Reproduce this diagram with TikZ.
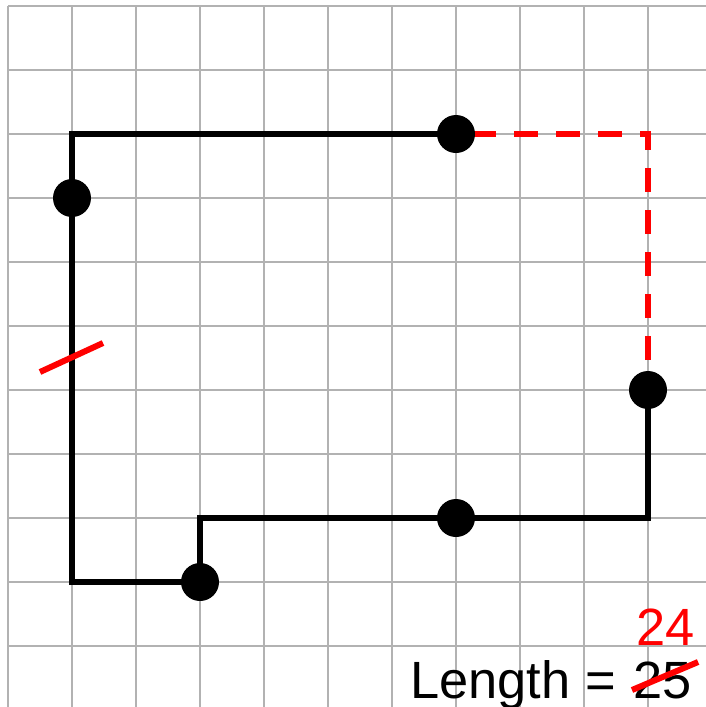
\documentclass[tikz,border=0pt]{standalone}
\usepackage{fontspec}
\setmainfont{Liberation Sans}
\usetikzlibrary{calc}
\tikzset{
  gridline/.style={draw=black!30, line width=1pt},
  pathline/.style={draw=black, line width=3pt, line join=miter},
  redline/.style={draw=red, line width=3pt},
  reddash/.style={draw=red, line width=2.75pt, line join=miter, dash pattern=on 12pt off 9pt, dash phase=13pt},
  dot/.style={circle, fill=black, inner sep=0pt, minimum size=19pt},
  lbl/.style={inner sep=0pt, anchor=base west, font=\fontsize{26.2}{30}\selectfont}
}
\begin{document}
\begin{tikzpicture}[x=0.5pt,y=-0.5pt]
\useasboundingbox (0,0) rectangle (706,707);
% grid
\foreach \i in {0,...,10} {
  \draw[gridline] (8+64*\i,6) -- (8+64*\i,707);
  \draw[gridline] (8,6+64*\i) -- (706,6+64*\i);
}
% coordinates
\coordinate (p1) at (456,134);
\coordinate (c1) at (72,134);
\coordinate (p2) at (72,198);
\coordinate (c2) at (72,582);
\coordinate (p3) at (200,582);
\coordinate (c3) at (200,518);
\coordinate (p4) at (456,518);
\coordinate (c4) at (648,518);
\coordinate (p5) at (648,390);
\coordinate (c5) at (648,134);
\coordinate (m) at (72,358);
% paths
\draw[reddash] (p1) -- (c5) -- (p5);
\draw[pathline] (p1) -- (c1) -- (p2) -- (c2) -- (p3) -- (c3) -- (p4) -- (c4) -- (p5);
\draw[redline] ($(m)+(-32,14)$) -- ($(m)+(31,-15)$);
% dots
\foreach \p in {p1,p2,p3,p4,p5} \node[dot] (d\p) at (\p) {};
% text
\node[lbl] (len) at (410,698) {Length =};
\node[lbl] (n25) at (633,698) {25};
\node[lbl, anchor=base, text=red] (n24) at ($(n25.base)+(3,-53)$) {24};
\draw[redline] ($(n25.base west)+(-1,-8)$) -- ($(n25.base east)+(6,-36)$);
\end{tikzpicture}
\end{document}
